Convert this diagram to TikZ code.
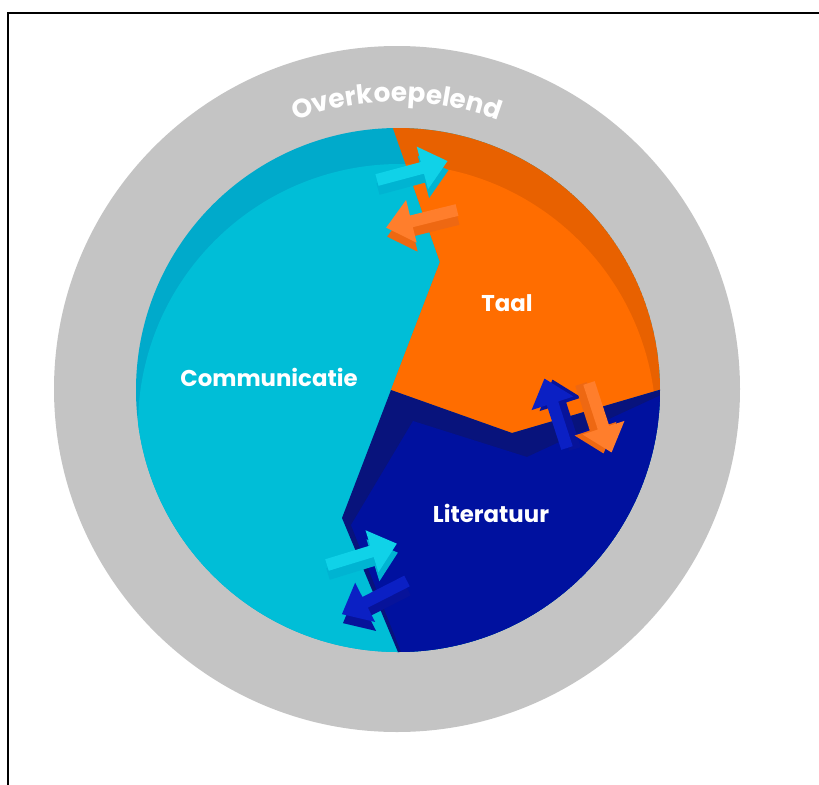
\documentclass[tikz,border=0pt]{standalone}
\usepackage{fontspec}
\usepackage{tikz}
\usetikzlibrary{decorations.text}
\newfontfamily\labelfont{Poppins}

\definecolor{ring}{HTML}{C4C4C4}
\definecolor{commface}{HTML}{00BED7}
\definecolor{commside}{HTML}{00AACB}
\definecolor{taalface}{HTML}{FF6D00}
\definecolor{taalside}{HTML}{E86100}
\definecolor{litface}{HTML}{00119F}
\definecolor{litside}{HTML}{08137C}
\definecolor{cyanarr}{HTML}{10D2E8}
\definecolor{cyanarrside}{HTML}{00B4D2}
\definecolor{orarr}{HTML}{FF7E2C}
\definecolor{orarrside}{HTML}{EE6812}
\definecolor{bluarr}{HTML}{0B20C4}
\definecolor{bluarrside}{HTML}{07139A}

% flat arrow: tail, angle, face colour, side colour, side offset
\newcommand{\flatarrow}[5]{%
\fill[#4,shift={(#5)},shift={(#1)},rotate=#2](0,-6)--(47,-6)--(47,-22)--(73,0)--(47,22)--(47,6)--(0,6)--cycle;
\fill[#3,shift={(#1)},rotate=#2](0,-6)--(47,-6)--(47,-22)--(73,0)--(47,22)--(47,6)--(0,6)--cycle;
}

\begin{document}
\begin{tikzpicture}[x=0.02cm,y=-0.02cm,
  lbl/.style={text=white,anchor=base,inner sep=0pt,font=\labelfont\bfseries\fontsize{13}{15}\selectfont}]
\useasboundingbox (0,0) rectangle (819,785);
\draw[line width=1.13pt](819,13)--(8,13)--(8,785);
% outer ring
\fill[ring](397,389)circle[radius=343];
\path[decorate,decoration={text along path,text align=center,
  text={|\labelfont\bfseries\fontsize{15}{15}\selectfont\color{white}|Overkoepelend}}]
  (397,389)++(-150:287)arc[start angle=-150,end angle=-30,radius=287];
\begin{scope}
\clip(398,390)circle[radius=262];
% communicatie
\fill[commside](398,390)circle[radius=262];
\fill[commface](400,426)circle[radius=262];
% taal
\fill[taalside](383,100)--(440,262)--(391,390)--(512,433)--(700,378)--(700,100)--cycle;
\begin{scope}
\clip(383,100)--(440,262)--(391,390)--(512,433)--(700,378)--(700,100)--cycle;
\fill[taalface](394,426)circle[radius=262];
\end{scope}
% literatuur
\fill[litside](391,390)--(512,433)--(700,378)--(700,700)--(418,700)--(342,518)--cycle;
\fill[litface](413,421)--(527,457)--(700,377)--(700,700)--(420,700)--(351,525)--cycle;
\end{scope}
% arrows between the parts
\flatarrow{377,180}{15}{cyanarr}{cyanarrside}{1,9}
\flatarrow{457,210}{194}{orarr}{orarrside}{1,9}
\flatarrow{567,448}{108}{bluarr}{bluarrside}{8,1}
\flatarrow{589,383}{288}{orarr}{orarrside}{-8,1}
\flatarrow{327,565}{17}{cyanarr}{cyanarrside}{1,9}
\flatarrow{407,581}{207}{bluarr}{bluarrside}{1,9}
% labels
\node[lbl](taal)at(507,311){Taal};
\node[lbl](communicatie)at(269,386){Communicatie};
\node[lbl](literatuur)at(491,522){Literatuur};
\end{tikzpicture}
\end{document}
